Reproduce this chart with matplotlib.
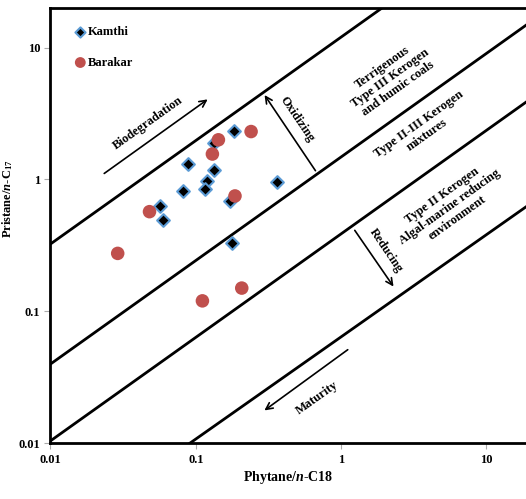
import numpy as np
from matplotlib import pyplot as plt

plt.rcParams['font.family'] = 'Liberation Serif'
plt.rcParams['font.weight'] = 'bold'
plt.rcParams['mathtext.fontset'] = 'custom'
plt.rcParams['mathtext.rm'] = 'Liberation Serif:bold'
plt.rcParams['mathtext.it'] = 'Liberation Serif:italic:bold'
plt.rcParams['mathtext.bf'] = 'Liberation Serif:bold'

# Kamthi samples (Ph/n-C18, Pr/n-C17)
kamthi_ph = [0.183, 0.088, 0.133, 0.119, 0.116, 0.082, 0.172, 0.057, 0.059, 0.362, 0.177, 0.133]
kamthi_pr = [2.34, 1.31, 1.18, 0.975, 0.85, 0.82, 0.69, 0.63, 0.49, 0.96, 0.33, 1.9]

# Barakar samples
barakar_ph = [0.240, 0.143, 0.130, 0.186, 0.048, 0.029, 0.207, 0.111]
barakar_pr = [2.31, 2.0, 1.56, 0.75, 0.57, 0.275, 0.15, 0.12]

# field boundary lines (x pair, y pair)
boundaries = [
    ([0.01, 1.91], [0.324, 20.0]),
    ([0.01, 18.7], [0.0398, 14.8]),
    ([0.01, 18.7], [0.0104, 3.86]),
    ([0.0912, 18.7], [0.01, 0.62]),
]

# arrows: (tail, head)
arrows = [
    ((0.682, 1.12), (0.290, 4.55)),    # oxidizing
    ((1.21, 0.428), (2.35, 0.148)),    # reducing
    ((0.0226, 1.08), (0.125, 4.17)),   # biodegradation
    ((1.15, 0.0526), (0.286, 0.0172)), # maturity
]

labels = [
    ("Biodegradation", 0.047, 2.69, 35.5),
    ("Oxidizing", 0.50, 2.84, -56),
    ("Terrigenous\nType III Kerogen\nand humic coals", 2.17, 5.9, 35.5),
    ("Type II-III Kerogen\nmixtures", 3.66, 2.38, 35.5),
    ("Type II Kerogen\nAlgal-marine reducing\nenvironment", 5.62, 0.62, 35.5),
    ("Reducing", 2.04, 0.287, -56),
    ("Maturity", 0.68, 0.022, 35.5),
]

fig = plt.figure(figsize=(5.26, 4.99), dpi=100)
ax = fig.add_axes([0.096, 0.112, 0.904, 0.872])
ax.set_xscale('log')
ax.set_yscale('log')
ax.set_xlim(0.01, 18.7)
ax.set_ylim(0.01, 20)

for xs, ys in boundaries:
    ax.plot(xs, ys, color='black', lw=2, zorder=1)

for tail, head in arrows:
    ax.annotate('', xy=head, xytext=tail,
                arrowprops=dict(arrowstyle='->', color='black', lw=1.2, mutation_scale=12))

for txt, x, y, rot in labels:
    ax.text(x, y, txt, rotation=rot, rotation_mode='anchor', ha='center', va='center',
            fontsize=9, fontweight='bold', linespacing=1.15)

ax.scatter(kamthi_ph, kamthi_pr, marker='D', s=42, c='black', edgecolors='#5b9bd5',
           linewidths=1.5, label='Kamthi', zorder=3)
ax.scatter(barakar_ph, barakar_pr, marker='o', s=95, c='#c0504d', edgecolors='none',
           label='Barakar', zorder=4)

ax.set_xticks([0.01, 0.1, 1, 10])
ax.set_xticklabels(['0.01', '0.1', '1', '10'])
ax.set_yticks([0.01, 0.1, 1, 10])
ax.set_yticklabels(['0.01', '0.1', '1', '10'])
ax.minorticks_off()
ax.tick_params(labelsize=9, length=4, color='#aaaaaa', direction='out')

for s in ['left', 'bottom', 'top']:
    ax.spines[s].set_linewidth(2)
ax.spines['right'].set_visible(False)

ax.set_xlabel(r'Phytane/$\mathit{n}$-C18', fontsize=10, fontweight='bold')
ax.xaxis.set_label_coords(0.5, -0.06)
ax.set_ylabel(r'Pristane/$\mathit{n}$-C$_{17}$', fontsize=9, fontweight='bold')
ax.yaxis.set_label_coords(-0.075, 0.561)

ax.legend(loc='upper left', bbox_to_anchor=(0.039, 0.97), frameon=False, fontsize=9,
          handletextpad=0.1, labelspacing=1.5, borderaxespad=0, handlelength=1,
          markerscale=0.8)

plt.savefig('out.png', dpi=100)
